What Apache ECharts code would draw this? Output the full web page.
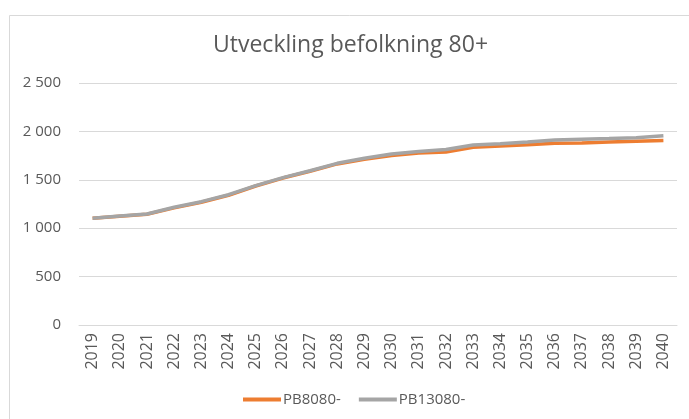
<!DOCTYPE html>
<html>
<head>
<meta charset="utf-8">
<script src="https://cdn.jsdelivr.net/npm/echarts@6/dist/echarts.min.js"></script>
<style>
  html, body { margin: 0; padding: 0; background: #fff; }
  #chart { width: 689px; height: 419px; }
</style>
</head>
<body>
<div id="chart"></div>
<script>
// årtal och prognoser
const years = ["2019", "2020", "2021", "2022", "2023", "2024", "2025", "2026", "2027", "2028", "2029",
  "2030", "2031", "2032", "2033", "2034", "2035", "2036", "2037", "2038", "2039", "2040"];
const pb8080 = [1102, 1124, 1144, 1210, 1268, 1340, 1436, 1518, 1588, 1664, 1712,
  1752, 1778, 1788, 1836, 1848, 1862, 1877, 1880, 1890, 1898, 1905];
const pb13080 = [1104, 1127, 1147, 1216, 1274, 1346, 1440, 1522, 1594, 1670, 1722,
  1766, 1792, 1814, 1860, 1872, 1890, 1910, 1918, 1926, 1935, 1956];
const yTicks = [0, 500, 1000, 1500, 2000, 2500];

const textColor = "#595959";
const font = "Open Sans";

function fmt(v) {
  // tusentalsavgränsare med mellanslag
  return String(v).replace(/\B(?=(\d{3})+(?!\d))/g, " ");
}

const chart = echarts.init(document.getElementById("chart"));
chart.setOption({
  backgroundColor: "#fff",
  animation: false,
  title: {
    text: "Utveckling befolkning 80+",
    left: 208, top: 29,
    textStyle: { color: textColor, fontFamily: font, fontSize: 23, fontWeight: "normal" }
  },
  graphic: [{
    type: "rect", left: 7, top: 13,
    shape: { width: 700, height: 420 },
    style: { fill: "none", stroke: "#d9d9d9", lineWidth: 1 }
  }],
  legend: {
    top: 387, left: 238, itemWidth: 38, itemHeight: 4, itemGap: 18,
    icon: "rect",
    textStyle: { color: textColor, fontFamily: font, fontSize: 15, padding: [0, 0, 0, -3] },
    data: ["PB8080-", "PB13080-"]
  },
  grid: { left: 79, right: 12, top: 83, bottom: 94 },
  xAxis: {
    type: "category", data: years, boundaryGap: true,
    axisLine: { lineStyle: { color: "#d9d9d9" } },
    axisTick: { show: false },
    axisLabel: { rotate: 90, color: textColor, fontFamily: font, fontSize: 16, margin: 8 }
  },
  yAxis: {
    type: "value", min: yTicks[0], max: yTicks[yTicks.length - 1], interval: 500,
    axisLine: { show: false }, axisTick: { show: false },
    splitLine: { lineStyle: { color: "#d9d9d9" } },
    axisLabel: { color: textColor, fontFamily: font, fontSize: 15, margin: 18, formatter: fmt }
  },
  series: [
    { name: "PB8080-", type: "line", data: pb8080, symbol: "none",
      lineStyle: { color: "#ED7D31", width: 3.5 }, itemStyle: { color: "#ED7D31" } },
    { name: "PB13080-", type: "line", data: pb13080, symbol: "none",
      lineStyle: { color: "#A5A5A5", width: 3.5 }, itemStyle: { color: "#A5A5A5" } }
  ]
});
</script>
</body>
</html>
